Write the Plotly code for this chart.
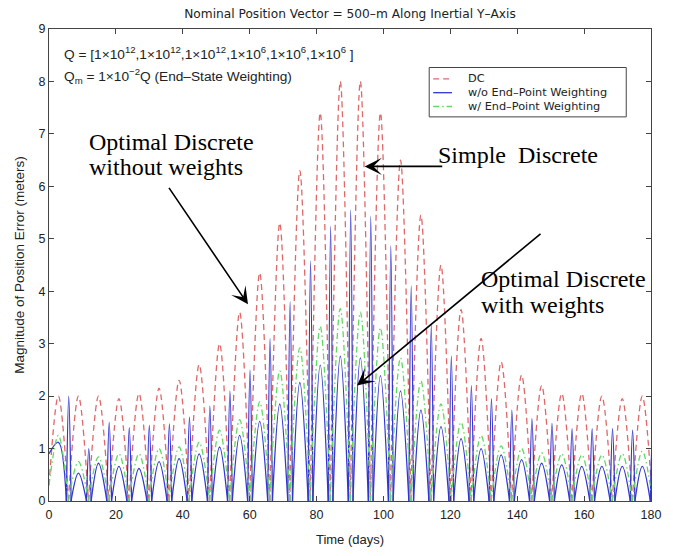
import plotly.graph_objects as go

# ---------------- data ----------------
# times (days) of the arch maxima (DC peaks, blue arches, green arches)
ARCH_T = [2.8, 8.8, 14.8, 20.9, 26.9, 32.9, 38.9, 44.9, 51.0, 57.0,
          63.0, 69.0, 75.0, 81.1, 87.1, 93.1, 99.1, 105.1, 111.2, 117.2,
          123.2, 129.2, 135.2, 141.3, 147.3, 153.3, 159.3, 165.3, 171.4, 177.4]
# times where the DC and green curves touch zero
ZERO_T = [5.8, 11.8, 17.9, 23.9, 29.9, 35.9, 41.9, 48.0, 54.0, 60.0,
          66.0, 72.0, 78.1, 84.1, 90.1, 96.1, 102.1, 108.2, 114.2, 120.2,
          126.2, 132.2, 138.3, 144.3, 150.3, 156.3, 162.3, 168.4, 174.4]
# times of the narrow spikes of the blue curve
SPIKE_T = [5.9, 11.9, 18.0, 24.0, 30.0, 36.0, 42.0, 48.1, 54.1, 60.1,
           66.1, 72.1, 78.2, 84.2, 90.2, 96.2, 102.2, 108.3, 114.3, 120.3,
           126.3, 132.3, 138.4, 144.4, 150.4, 156.4, 162.4, 168.5, 174.5, 180.5]
SPIKE_HALF_BASE = 0.7  # days

DC_PEAK = [2.0, 2.0, 2.0, 1.95, 2.05, 2.15, 2.3, 2.6, 3.0, 3.6,
           4.35, 5.3, 6.3, 7.4, 8.0, 8.0, 7.4, 6.5, 5.45, 4.5,
           3.65, 3.1, 2.65, 2.4, 2.2, 2.05, 2.05, 2.0, 1.95, 2.0]
DC_START, DC_END = 0.3, 0.4

BLUE_ARCH = [1.12, 0.53, 0.72, 0.66, 0.62, 0.75, 0.81, 0.9, 1.03, 1.25,
             1.52, 1.85, 2.26, 2.59, 2.76, 2.73, 2.39, 2.1, 1.73, 1.42,
             1.19, 1.0, 0.88, 0.79, 0.72, 0.69, 0.66, 0.66, 0.66, 0.66]
BLUE_SPIKE = [2.0, 1.0, 1.5, 1.4, 1.44, 1.47, 1.6, 1.81, 2.1, 2.5,
              3.1, 3.8, 4.58, 5.24, 5.55, 5.43, 4.87, 4.1, 3.36, 2.76,
              2.2, 1.95, 1.73, 1.57, 1.48, 1.38, 1.38, 1.38, 1.35, 1.4]
BLUE_START = 0.9

GREEN_ARCH = [1.25, 0.75, 0.84, 0.9, 0.9, 1.0, 1.03, 1.12, 1.35, 1.55,
              1.89, 2.48, 2.92, 3.33, 3.67, 3.6, 3.3, 2.73, 2.29, 1.85,
              1.5, 1.25, 1.05, 1.0, 0.92, 0.9, 0.88, 0.88, 0.9, 0.95]
GREEN_START, GREEN_END = 0.3, 0.2

X_TICKS = [0, 20, 40, 60, 80, 100, 120, 140, 160, 180]
Y_TICKS = [0, 1, 2, 3, 4, 5, 6, 7, 8, 9]

NAMES = ["DC", "w/o End\u2013Point Weighting", "w/ End\u2013Point Weighting"]
COLORS = ["#e06868", "#3434d4", "#62d862"]
DASHES = ["6px,4px", "solid", "6px,3px,1.5px,3px"]

# ---------------- build arch segments ----------------
def full_arches(peaks, start_v, end_v):
    lt = [0.0] + ZERO_T
    rt = ZERO_T + [180.0]
    lv = [start_v] + [0.0] * len(ZERO_T)
    rv = [0.0] * len(ZERO_T) + [end_v]
    xs, ys = [], []
    for a, av, p, pv, b, bv in zip(lt, lv, ARCH_T, peaks, rt, rv):
        xs += [a, p, b, None]
        ys += [av, pv, bv, None]
    return xs, ys

dcx, dcy = full_arches(DC_PEAK, DC_START, DC_END)
gx, gy = full_arches(GREEN_ARCH, GREEN_START, GREEN_END)

bx, by = [], []
for k in range(len(ARCH_T)):
    lt = 0.0 if k == 0 else SPIKE_T[k - 1] + SPIKE_HALF_BASE
    lv = BLUE_START if k == 0 else 0.0
    rt = SPIKE_T[k] - SPIKE_HALF_BASE
    bx += [lt, ARCH_T[k], rt, None]
    by += [lv, BLUE_ARCH[k], 0.0, None]
    bx += [rt, SPIKE_T[k], SPIKE_T[k] + SPIKE_HALF_BASE, None]
    by += [0.0, BLUE_SPIKE[k], 0.0, None]

fig = go.Figure()
for (xs, ys), name, col, dash in zip([(dcx, dcy), (bx, by), (gx, gy)], NAMES, COLORS, DASHES):
    fig.add_trace(go.Scatter(x=xs, y=ys, mode="lines", name=name, connectgaps=False,
                             line=dict(color=col, width=1.3, dash=dash, shape="spline", smoothing=1),
                             hoverinfo="skip", showlegend=False))

# ---------------- layout ----------------
W, H = 673, 556
L, R, T, B = 49, 16, 29, 49
PW, PH = W - L - R, H - T - B

def px(x):
    return (x - L) / PW

def py(y):
    return (H - B - y) / PH

FONT = "Liberation Sans, Arial, sans-serif"
WIDE = "DejaVu Sans, Verdana, sans-serif"
SERIF = "Liberation Serif, Times New Roman, serif"
INK = "#222"

axis_common = dict(showline=True, linecolor="#444", linewidth=1, mirror="ticks",
                   ticks="inside", ticklen=5, tickcolor="#444", showgrid=False,
                   zeroline=False, tickfont=dict(family=FONT, size=12.5, color=INK))
fig.update_layout(
    width=W, height=H, margin=dict(l=L, r=R, t=T, b=B),
    paper_bgcolor="white", plot_bgcolor="white",
    title=dict(text="Nominal Position Vector = 500\u2013m Along Inertial Y\u2013Axis",
               x=px(353), xref="paper", xanchor="center", y=1 - 14 / H, yanchor="middle",
               font=dict(family=WIDE, size=12.2, color=INK)),
    xaxis=dict(range=[0, 180], tickvals=X_TICKS, ticklabelstandoff=2, **axis_common,
               title=dict(text="Time (days)", standoff=13, font=dict(family=FONT, size=13, color=INK))),
    yaxis=dict(range=[0, 9], tickvals=Y_TICKS, **axis_common,
               title=dict(text="Magnitude of Position Error (meters)", standoff=10,
                          font=dict(family=FONT, size=13.5, color=INK))),
    showlegend=False,
)

ann = []
# parameter texts
ann.append(dict(xref="paper", yref="paper", x=px(62), y=py(53), xanchor="left", yanchor="middle",
                showarrow=False, font=dict(family=FONT, size=13.7, color=INK),
                text="Q = [1\u00d710<sup>12</sup>,1\u00d710<sup>12</sup>,1\u00d710<sup>12</sup>,1\u00d710<sup>6</sup>,1\u00d710<sup>6</sup>,1\u00d710<sup>6</sup> ]"))
ann.append(dict(xref="paper", yref="paper", x=px(62), y=py(77), xanchor="left", yanchor="middle",
                showarrow=False, font=dict(family=FONT, size=13.7, color=INK),
                text="Q<sub>m</sub> = 1\u00d710<sup>\u22122</sup>Q (End\u2013State Weighting)"))

# manual legend
leg_rows = [79.5, 93.5, 107.5]
shapes = [dict(type="rect", xref="paper", yref="paper", x0=px(433), x1=px(632), y0=py(118), y1=py(68),
               line=dict(color="#444", width=1), fillcolor="white", layer="above")]
for name, col, dash, ry in zip(NAMES, COLORS, DASHES, leg_rows):
    shapes.append(dict(type="line", xref="paper", yref="paper", x0=px(437), x1=px(456), y0=py(ry), y1=py(ry),
                       line=dict(color=col, width=1.3, dash=dash), layer="above"))
    ann.append(dict(xref="paper", yref="paper", x=px(470), y=py(ry), xanchor="left", yanchor="middle",
                    showarrow=False, text=name, font=dict(family=WIDE, size=11.3, color=INK)))

# callouts (one annotation per line)
for txt, x0, yc in [("Optimal Discrete", 87, 143), ("without weights", 87, 169),
                    ("Simple\u00a0 Discrete", 440, 157),
                    ("Optimal Discrete", 483, 282), ("with weights", 483, 309)]:
    ann.append(dict(xref="paper", yref="paper", x=px(x0), y=py(yc), xanchor="left", yanchor="middle",
                    align="left", showarrow=False, text=txt,
                    font=dict(family=SERIF, size=24, color="black")))

for tx, ty, ax, ay in [(59.5, 3.75, -80, -118), (94.4, 6.38, 79, 0), (92.1, 2.2, 185, -153)]:
    ann.append(dict(x=tx, y=ty, xref="x", yref="y", ax=ax, ay=ay, text="", showarrow=True,
                    arrowhead=3, arrowsize=1.8, arrowwidth=1.6, arrowcolor="black"))

fig.update_layout(annotations=ann, shapes=shapes)
fig.write_html("out.html")
